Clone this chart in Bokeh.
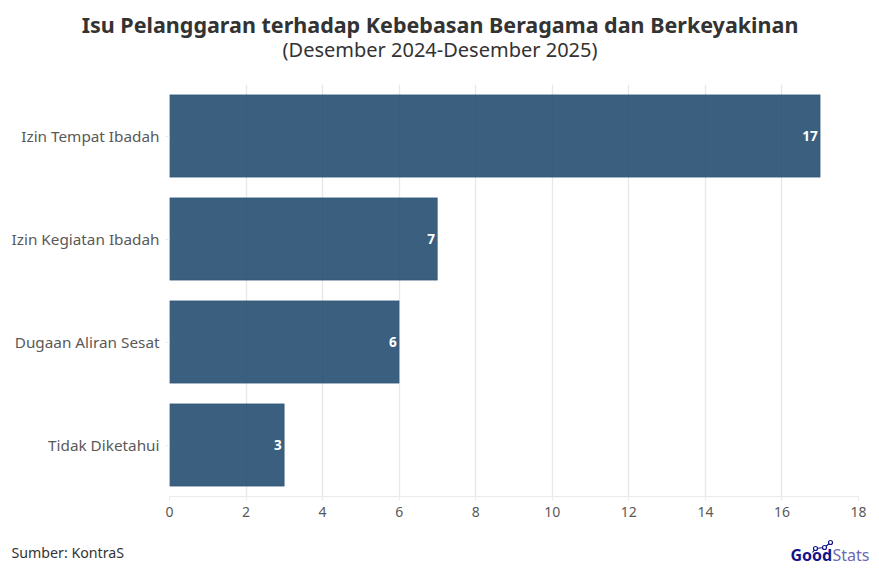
from bokeh.plotting import figure
from bokeh.layouts import column
from bokeh.models import ColumnDataSource, LabelSet, FixedTicker, Range1d
from bokeh.core.properties import value
from bokeh.embed import file_html
from bokeh.resources import INLINE

categories = ["Izin Tempat Ibadah", "Izin Kegiatan Ibadah", "Dugaan Aliran Sesat", "Tidak Diketahui"]
values = [17, 7, 6, 3]
x_ticks = [0, 2, 4, 6, 8, 10, 12, 14, 16, 18]
title_text = "Isu Pelanggaran terhadap Kebebasan Beragama dan Berkeyakinan"
subtitle_text = "(Desember 2024-Desember 2025)"
source_text = "Sumber: KontraS"

FONT = "Noto Sans"
W = 875
HEAD_H, MAIN_H, FOOT_H = 80, 445, 45


def strip(top, height):
    f = figure(width=W, height=height, output_backend="svg", toolbar_location=None,
               x_range=Range1d(0, W), y_range=Range1d(top + height, top),
               x_axis_type=None, y_axis_type=None, frame_align=False,
               min_border_left=0, min_border_right=0, min_border_top=0, min_border_bottom=0)
    f.outline_line_color = None
    return f


def txt(f, s, x, y, size, color="#333333", style="normal", align="left"):
    f.text(x=[x], y=[y], text=[s], text_font=value(FONT), text_font_size=value(size),
           text_color=color, text_font_style=style, text_align=align, text_baseline="middle")


head = strip(0, HEAD_H)
txt(head, title_text, 439.5, 24, "21.5px", style="bold", align="center")
txt(head, subtitle_text, 439.5, 48.5, "20px", align="center")

p = figure(width=W, height=MAIN_H, output_backend="svg", toolbar_location=None,
           y_range=categories[::-1], x_range=(0, 18), frame_align=False,
           min_border_left=169, min_border_right=W - 858, min_border_top=4, min_border_bottom=29)
p.outline_line_color = None

src = ColumnDataSource(dict(cat=categories, val=values, lab=[str(v) for v in values]))
p.hbar(y="cat", right="val", left=0, height=0.8, source=src,
       fill_color="#174368", fill_alpha=0.85, line_color="#174368", line_alpha=0.3, line_width=1)
p.add_layout(LabelSet(x="val", y="cat", text="lab", source=src, x_offset=-2.5, y_offset=0,
                      text_align="right", text_baseline="middle", text_color="white",
                      text_font=value(FONT), text_font_style="bold", text_font_size="13.5px"))

p.ygrid.grid_line_color = None
p.xgrid.grid_line_color = "#e8e8e8"
p.xgrid.grid_line_width = 1.4
p.xgrid.ticker = FixedTicker(ticks=x_ticks)
p.xaxis.ticker = FixedTicker(ticks=x_ticks)
for ax in (p.xaxis[0], p.yaxis[0]):
    ax.axis_line_color = "#ebebeb"
    ax.major_tick_line_color = "#ebebeb"
    ax.major_tick_out = 4
    ax.major_tick_in = 0
    ax.minor_tick_line_color = None
    ax.major_label_text_font = FONT
    ax.major_label_text_color = "#595959"
    ax.major_label_text_font_size = "14px"
    ax.major_label_standoff = 6
p.yaxis[0].axis_line_color = None
p.yaxis[0].major_label_text_font_size = "15.3px"

foot = strip(HEAD_H + MAIN_H, FOOT_H)
txt(foot, source_text, 11, 552, "14.2px")
NAVY = "#14148a"
txt(foot, "Good", 790, 554, "16px", NAVY, "bold")
txt(foot, "Stats", 832, 554, "16px", "#6a6ab8")
logo_x = [812, 815, 824, 830]
logo_y = [552, 548, 547, 542]
foot.line(logo_x, logo_y, line_color=NAVY, line_width=1.2)
foot.scatter(logo_x[1:], logo_y[1:], size=4, fill_color="white", line_color=NAVY, line_width=1.2)

page = column(head, p, foot, spacing=0)
open("out.html", "w").write(file_html(page, INLINE))
